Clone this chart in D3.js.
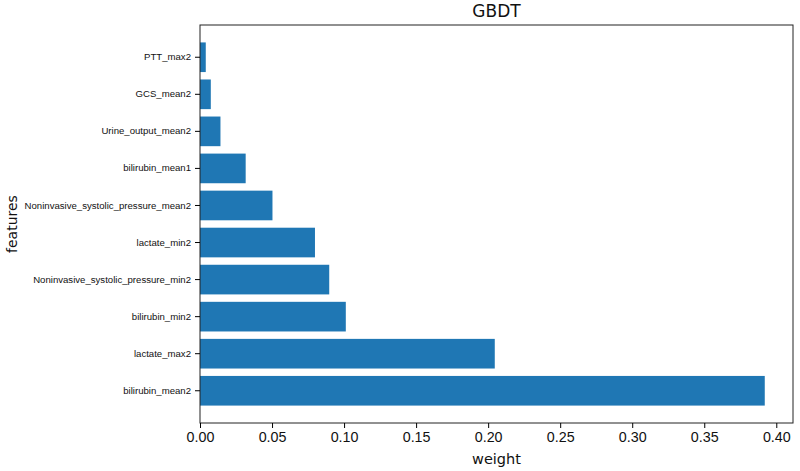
<!DOCTYPE html>
<html>
<head>
<meta charset="utf-8">
<script src="https://cdn.jsdelivr.net/npm/d3@7"></script>
<style>
  body { margin: 0; background: #fff; }
  svg { font-family: "DejaVu Sans", sans-serif; }
</style>
</head>
<body>
<div id="chart"></div>
<script>
// features listed bottom to top, as in the picture
const features = [
    "bilirubin_mean2",
    "lactate_max2",
    "bilirubin_min2",
    "Noninvasive_systolic_pressure_min2",
    "lactate_min2",
    "Noninvasive_systolic_pressure_mean2",
    "bilirubin_mean1",
    "Urine_output_mean2",
    "GCS_mean2",
    "PTT_max2"
];
const weights = [0.392, 0.2046, 0.1012, 0.0897, 0.0798, 0.0503, 0.0317, 0.0142, 0.0075, 0.004];
const xTicks = [0, 0.05, 0.10, 0.15, 0.20, 0.25, 0.30, 0.35, 0.40];

const width = 800, height = 471;
const margin = { top: 25, right: 7, bottom: 48, left: 200 };
const innerW = width - margin.left - margin.right;
const innerH = height - margin.top - margin.bottom;

const svg = d3.select("#chart")
    .append("svg")
    .attr("width", width)
    .attr("height", height);

const g = svg.append("g")
    .attr("transform", `translate(${margin.left},${margin.top})`);

const xScale = d3.scaleLinear()
    .domain([0, d3.max(weights) * 1.05])
    .range([0, innerW]);

// top feature first so it sits at the top
const yScale = d3.scaleBand()
    .domain(features.slice().reverse())
    .range([0, innerH])
    .paddingInner(0.2)
    .paddingOuter(0.47);

g.selectAll("rect.bar")
    .data(features.map((f, i) => ({ feature: f, weight: weights[i] })))
    .enter()
    .append("rect")
    .attr("class", "bar")
    .attr("x", xScale(0))
    .attr("y", d => yScale(d.feature))
    .attr("width", d => xScale(d.weight) - xScale(0))
    .attr("height", yScale.bandwidth())
    .attr("fill", "#1f77b4");

// frame
g.append("rect")
    .attr("width", innerW)
    .attr("height", innerH)
    .attr("fill", "none")
    .attr("stroke", "#222")
    .attr("stroke-width", 1);

const xAxis = g.append("g")
    .attr("transform", `translate(0,${innerH})`)
    .call(d3.axisBottom(xScale).tickValues(xTicks).tickFormat(d3.format(".2f")).tickSize(5).tickPadding(4));
xAxis.select(".domain").remove();
xAxis.selectAll("text").style("font-size", "14.3px").attr("fill", "#111");

const yAxis = g.append("g")
    .call(d3.axisLeft(yScale).tickSize(5).tickPadding(4));
yAxis.select(".domain").remove();
yAxis.selectAll("text").style("font-size", "9.6px").attr("fill", "#111");

svg.append("text")
    .attr("x", margin.left + innerW / 2)
    .attr("y", 17)
    .attr("text-anchor", "middle")
    .style("font-size", "17px")
    .attr("fill", "#111")
    .text("GBDT");

svg.append("text")
    .attr("x", margin.left + innerW / 2)
    .attr("y", 464)
    .attr("text-anchor", "middle")
    .style("font-size", "14.5px")
    .attr("fill", "#111")
    .text("weight");

svg.append("text")
    .attr("transform", `translate(17,${margin.top + innerH / 2}) rotate(-90)`)
    .attr("text-anchor", "middle")
    .style("font-size", "14px")
    .attr("fill", "#111")
    .text("features");
</script>
</body>
</html>
